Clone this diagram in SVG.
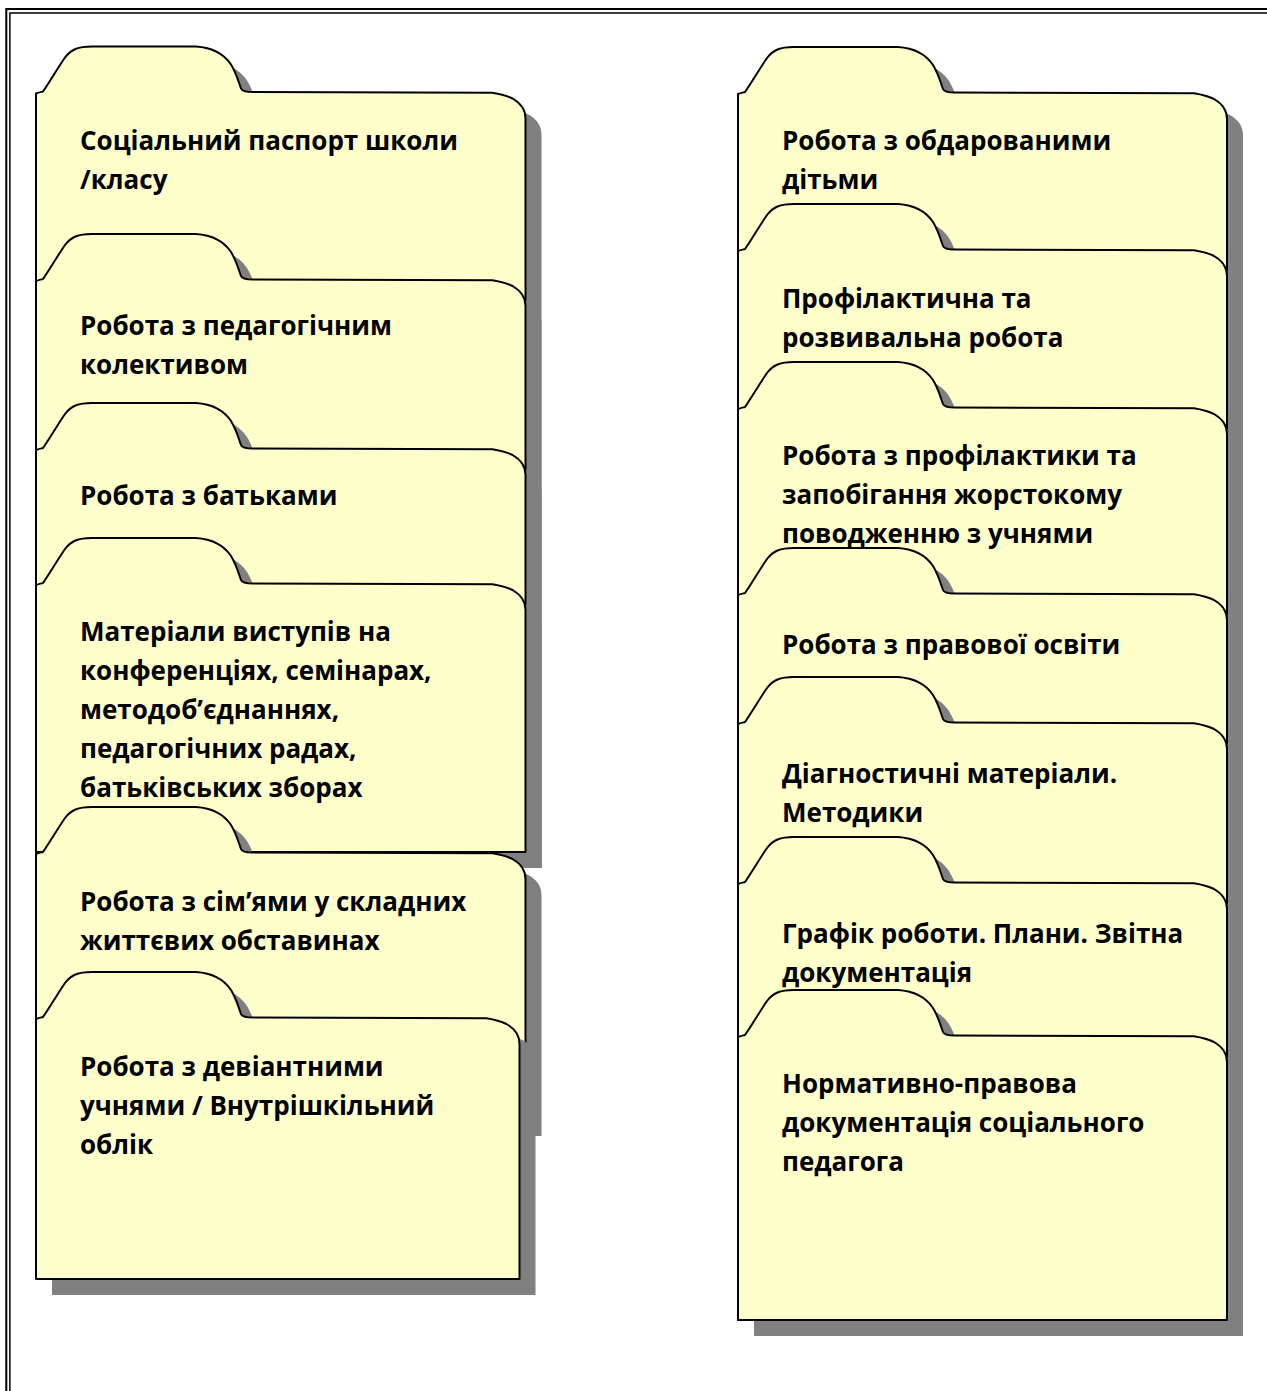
<svg xmlns="http://www.w3.org/2000/svg" xmlns:xlink="http://www.w3.org/1999/xlink" width="1267" height="1391" viewBox="0 0 1267 1391">
<style>
.shadow{fill:#808080;stroke:none}
.folder{fill:#FFFFCC;stroke:#000;stroke-width:2;stroke-linejoin:round}
.lbl{font-family:"Open Sans","Noto Sans","DejaVu Sans",sans-serif;font-weight:bold;font-size:26px;fill:#000}
.frame{fill:none;stroke:#000}
</style>
<defs>
<path id="pL1" d="M0,47 C2,46 5,45.5 7,45 C12,38 24,18 29,11 C35,3 42,0 56,0 L160,0 C175,1 187,6 195,18 C201,28 203,37 205,42 C206,45 210,45.5 217,45.5 L456.5,46.2 C464.5,47.5 471.5,49.5 476.5,52 C483.5,56 489.5,62 489.5,72 L489.5,805.5 L0,805.5 Z"/>
<path id="pL2" d="M0,47 C2,46 5,45.5 7,45 C12,38 24,18 29,11 C35,3 42,0 56,0 L160,0 C175,1 187,6 195,18 C201,28 203,37 205,42 C206,45 210,45.5 217,45.5 L456.5,46.2 C464.5,47.5 471.5,49.5 476.5,52 C483.5,56 489.5,62 489.5,72 L489.5,618 L0,618 Z"/>
<path id="pL3" d="M0,47 C2,46 5,45.5 7,45 C12,38 24,18 29,11 C35,3 42,0 56,0 L160,0 C175,1 187,6 195,18 C201,28 203,37 205,42 C206,45 210,45.5 217,45.5 L456.5,46.2 C464.5,47.5 471.5,49.5 476.5,52 C483.5,56 489.5,62 489.5,72 L489.5,449 L0,449 Z"/>
<path id="pL4" d="M0,47 C2,46 5,45.5 7,45 C12,38 24,18 29,11 C35,3 42,0 56,0 L160,0 C175,1 187,6 195,18 C201,28 203,37 205,42 C206,45 210,45.5 217,45.5 L456.5,46.2 C464.5,47.5 471.5,49.5 476.5,52 C483.5,56 489.5,62 489.5,72 L489.5,314 L0,314 Z"/>
<path id="pL5" d="M0,47 C2,46 5,45.5 7,45 C12,38 24,18 29,11 C35,3 42,0 56,0 L160,0 C175,1 187,6 195,18 C201,28 203,37 205,42 C206,45 210,45.5 217,45.5 L456.5,46.2 C464.5,47.5 471.5,49.5 476.5,52 C483.5,56 489.5,62 489.5,72 L489.5,313 L0,313 Z"/>
<path id="pL6" d="M0,47 C2,46 5,45.5 7,45 C12,38 24,18 29,11 C35,3 42,0 56,0 L160,0 C175,1 187,6 195,18 C201,28 203,37 205,42 C206,45 210,45.5 217,45.5 L450.5,46.2 C458.5,47.5 465.5,49.5 470.5,52 C477.5,56 483.5,62 483.5,72 L483.5,307 L0,307 Z"/>
<path id="pR1" d="M0,47 C2,46 5,45.5 7,45 C12,38 24,18 29,11 C35,3 42,0 56,0 L160,0 C175,1 187,6 195,18 C201,28 203,37 205,42 C206,45 210,45.5 217,45.5 L456,46.2 C464,47.5 471,49.5 476,52 C483,56 489,62 489,72 L489,1273 L0,1273 Z"/>
<path id="pR2" d="M0,47 C2,46 5,45.5 7,45 C12,38 24,18 29,11 C35,3 42,0 56,0 L160,0 C175,1 187,6 195,18 C201,28 203,37 205,42 C206,45 210,45.5 217,45.5 L456,46.2 C464,47.5 471,49.5 476,52 C483,56 489,62 489,72 L489,1116 L0,1116 Z"/>
<path id="pR3" d="M0,47 C2,46 5,45.5 7,45 C12,38 24,18 29,11 C35,3 42,0 56,0 L160,0 C175,1 187,6 195,18 C201,28 203,37 205,42 C206,45 210,45.5 217,45.5 L456,46.2 C464,47.5 471,49.5 476,52 C483,56 489,62 489,72 L489,958 L0,958 Z"/>
<path id="pR4" d="M0,47 C2,46 5,45.5 7,45 C12,38 24,18 29,11 C35,3 42,0 56,0 L160,0 C175,1 187,6 195,18 C201,28 203,37 205,42 C206,45 210,45.5 217,45.5 L456,46.2 C464,47.5 471,49.5 476,52 C483,56 489,62 489,72 L489,772 L0,772 Z"/>
<path id="pR5" d="M0,47 C2,46 5,45.5 7,45 C12,38 24,18 29,11 C35,3 42,0 56,0 L160,0 C175,1 187,6 195,18 C201,28 203,37 205,42 C206,45 210,45.5 217,45.5 L456,46.2 C464,47.5 471,49.5 476,52 C483,56 489,62 489,72 L489,643 L0,643 Z"/>
<path id="pR6" d="M0,47 C2,46 5,45.5 7,45 C12,38 24,18 29,11 C35,3 42,0 56,0 L160,0 C175,1 187,6 195,18 C201,28 203,37 205,42 C206,45 210,45.5 217,45.5 L456,46.2 C464,47.5 471,49.5 476,52 C483,56 489,62 489,72 L489,483 L0,483 Z"/>
<path id="pR7" d="M0,47 C2,46 5,45.5 7,45 C12,38 24,18 29,11 C35,3 42,0 56,0 L160,0 C175,1 187,6 195,18 C201,28 203,37 205,42 C206,45 210,45.5 217,45.5 L456,46.2 C464,47.5 471,49.5 476,52 C483,56 489,62 489,72 L489,330 L0,330 Z"/>
</defs>
<rect width="1267" height="1391" fill="#fff"/>
<g id="page-frame">
<path class="frame" stroke-width="2" d="M6.3,1400 V9 H1280"/>
<path class="frame" stroke-width="1.5" d="M9.9,1400 V12.9 H1280"/>
</g>
<g id="left-folder-1" transform="translate(36,46.5)">
<use xlink:href="#pL1" class="shadow" x="16" y="16"/>
<use xlink:href="#pL1" class="folder"/>
<text class="lbl" x="44" y="103.5">Соціальний паспорт школи</text>
<text class="lbl" x="44" y="142.5">/класу</text>
</g>
<g id="left-folder-2" transform="translate(36,234)">
<use xlink:href="#pL2" class="shadow" x="16" y="16"/>
<use xlink:href="#pL2" class="folder"/>
<text class="lbl" x="44" y="101">Робота з педагогічним</text>
<text class="lbl" x="44" y="140">колективом</text>
</g>
<g id="left-folder-3" transform="translate(36,403)">
<use xlink:href="#pL3" class="shadow" x="16" y="16"/>
<use xlink:href="#pL3" class="folder"/>
<text class="lbl" x="44" y="102">Робота з батьками</text>
</g>
<g id="left-folder-4" transform="translate(36,538)">
<use xlink:href="#pL4" class="shadow" x="16" y="16"/>
<use xlink:href="#pL4" class="folder"/>
<text class="lbl" x="44" y="103">Матеріали виступів на</text>
<text class="lbl" x="44" y="142">конференціях, семінарах,</text>
<text class="lbl" x="44" y="181">методоб’єднаннях,</text>
<text class="lbl" x="44" y="220">педагогічних радах,</text>
<text class="lbl" x="44" y="259">батьківських зборах</text>
</g>
<g id="left-folder-5" transform="translate(36,807)">
<use xlink:href="#pL5" class="shadow" x="16" y="16"/>
<use xlink:href="#pL5" class="folder"/>
<text class="lbl" x="44" y="104">Робота з сім’ями у складних</text>
<text class="lbl" x="44" y="143">життєвих обставинах</text>
</g>
<g id="left-folder-6" transform="translate(36,972)">
<use xlink:href="#pL6" class="shadow" x="16" y="16"/>
<use xlink:href="#pL6" class="folder"/>
<text class="lbl" x="44" y="104">Робота з девіантними</text>
<text class="lbl" x="44" y="143">учнями / Внутрішкільний</text>
<text class="lbl" x="44" y="182">облік</text>
</g>
<g id="right-folder-1" transform="translate(738,47)">
<use xlink:href="#pR1" class="shadow" x="16" y="16"/>
<use xlink:href="#pR1" class="folder"/>
<text class="lbl" x="44" y="103">Робота з обдарованими</text>
<text class="lbl" x="44" y="142">дітьми</text>
</g>
<g id="right-folder-2" transform="translate(738,204)">
<use xlink:href="#pR2" class="shadow" x="16" y="16"/>
<use xlink:href="#pR2" class="folder"/>
<text class="lbl" x="44" y="104">Профілактична та</text>
<text class="lbl" x="44" y="143">розвивальна робота</text>
</g>
<g id="right-folder-3" transform="translate(738,362)">
<use xlink:href="#pR3" class="shadow" x="16" y="16"/>
<use xlink:href="#pR3" class="folder"/>
<text class="lbl" x="44" y="103">Робота з профілактики та</text>
<text class="lbl" x="44" y="142">запобігання жорстокому</text>
<text class="lbl" x="44" y="181">поводженню з учнями</text>
</g>
<g id="right-folder-4" transform="translate(738,548)">
<use xlink:href="#pR4" class="shadow" x="16" y="16"/>
<use xlink:href="#pR4" class="folder"/>
<text class="lbl" x="44" y="106">Робота з правової освіти</text>
</g>
<g id="right-folder-5" transform="translate(738,677)">
<use xlink:href="#pR5" class="shadow" x="16" y="16"/>
<use xlink:href="#pR5" class="folder"/>
<text class="lbl" x="44" y="106">Діагностичні матеріали.</text>
<text class="lbl" x="44" y="145">Методики</text>
</g>
<g id="right-folder-6" transform="translate(738,837)">
<use xlink:href="#pR6" class="shadow" x="16" y="16"/>
<use xlink:href="#pR6" class="folder"/>
<text class="lbl" x="44" y="106">Графік роботи. Плани. Звітна</text>
<text class="lbl" x="44" y="145">документація</text>
</g>
<g id="right-folder-7" transform="translate(738,990)">
<use xlink:href="#pR7" class="shadow" x="16" y="16"/>
<use xlink:href="#pR7" class="folder"/>
<text class="lbl" x="44" y="103">Нормативно-правова</text>
<text class="lbl" x="44" y="142">документація соціального</text>
<text class="lbl" x="44" y="181">педагога</text>
</g>
</svg>
